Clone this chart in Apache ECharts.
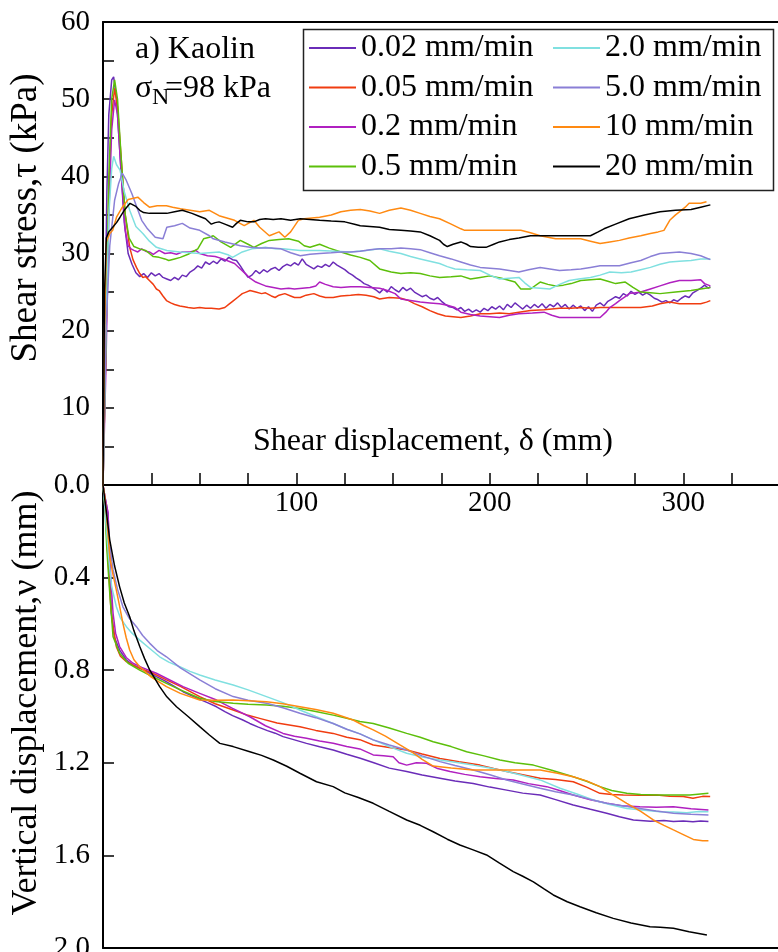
<!DOCTYPE html>
<html><head><meta charset="utf-8">
<script src="https://cdn.jsdelivr.net/npm/echarts@6/dist/echarts.min.js"></script>
<style>html,body{margin:0;padding:0;background:#fff}#c{width:778px;height:952px}</style>
</head><body><div id="c"></div>
<script>
const rateNames = ['0.02 mm/min','0.05 mm/min','0.2 mm/min','0.5 mm/min','2.0 mm/min','5.0 mm/min','10 mm/min','20 mm/min'];
const rateColors = ['#6a2cb8','#f03c10','#b020c0','#5cbf0a','#80e0e0','#8a7fd6','#ff8a12','#000000'];
const xTickLabels = [100,200,300];
const tauTickLabels = [10,20,30,40,50,60];
const nuTickLabels = ['0.0','0.4','0.8','1.2','1.6','2.0'];

// Shear stress (kPa) vs shear displacement (mm)
const tau002 = [[0,0],[1,20],[2,38],[3,48],[4.5,52.5],[5.5,52.9],[7,50],[9,42],[11,34],[13,30],[15,28.6],[17,27.5],[19,27.0],[21,27.4],[23,26.9],[25,27.5],[27,27.1],[29,27.4],[31,26.9],[33,26.7],[35,26.5],[37,26.9],[39,26.6],[41,27.2],[43,27.0],[45,27.6],[47,27.9],[49,28.4],[51,28.1],[53,28.9],[55,28.6],[57,29.0],[59,28.7],[61,29.3],[63,29.0],[65,29.5],[67,29.2],[69,29.1],[71,28.4],[73,27.6],[75,26.9],[77,27.2],[79,27.8],[81,27.4],[83,27.9],[85,27.6],[87,28.0],[89,28.2],[91,27.8],[93,28.3],[95,28.6],[97,28.4],[99,28.8],[101,28.5],[103,29.3],[105,28.6],[107,28.3],[109,28.0],[111,28.4],[113,28.2],[115,28.6],[117,28.3],[119,28.9],[121,28.5],[123,28.2],[125,27.9],[127,27.5],[129,27.2],[131,26.8],[133,26.5],[135,26.1],[137,25.9],[139,25.6],[141,25.3],[143,24.9],[145,25.4],[147,25.0],[149,25.7],[151,25.3],[153,25.0],[155,25.6],[157,25.2],[159,25.5],[161,25.0],[163,24.7],[165,24.4],[167,24.6],[169,24.2],[171,24.0],[173,24.3],[175,23.8],[177,23.4],[179,23.1],[181,23.0],[183,22.7],[185,23.0],[187,22.5],[189,22.8],[191,22.4],[193,22.7],[195,22.4],[197,22.9],[199,22.6],[201,23.1],[203,22.8],[205,23.2],[207,22.7],[209,23.4],[211,23.0],[213,23.6],[215,23.2],[217,22.8],[219,23.3],[221,22.9],[223,23.4],[225,23.0],[227,23.5],[229,22.9],[231,23.4],[233,23.1],[235,23.6],[237,23.0],[239,23.4],[241,22.8],[243,23.3],[245,22.9],[247,23.2],[249,22.6],[251,23.1],[253,22.5],[255,23.3],[257,23.6],[259,23.2],[261,23.8],[263,24.1],[265,24.4],[267,24.2],[269,24.8],[271,24.5],[273,25.1],[275,24.7],[277,25.0],[279,24.6],[281,24.9],[283,24.6],[285,24.2],[287,24.0],[289,23.7],[291,23.9],[293,23.6],[295,24.0],[297,23.8],[299,24.2],[301,24.5],[303,24.3],[305,24.9],[307,25.2],[309,25.5],[311,25.9],[313,25.5],[314,25.7]];
const tau005 = [[0,0],[1.5,18],[3,38],[4.5,48],[6,51.4],[7.5,49],[9.5,42],[11.5,35],[13.8,30.8],[15.5,29.2],[17.3,28.2],[19,27.4],[20.6,26.9],[22,27.0],[24,26.5],[26,26.0],[27.6,25.4],[29,25.2],[31,24.5],[32.8,23.9],[35,23.6],[37,23.4],[39.7,23.2],[42,23.1],[44,23.0],[47,22.9],[50,23.0],[53,22.9],[56,22.9],[60,22.8],[63,23.0],[65,23.4],[67,23.8],[70,24.4],[72,24.8],[74,25.0],[76,25.2],[79,25.0],[82,24.8],[84,24.9],[87,24.5],[89,24.3],[91,24.6],[94,24.8],[97,24.5],[99,24.3],[102,24.3],[105,24.6],[109,24.8],[112,24.5],[115,24.3],[119,24.3],[123,24.5],[128,24.6],[132,24.7],[136,24.6],[140,24.4],[143,24.1],[148,24.3],[154,24.2],[158,23.9],[161,23.5],[165,23.1],[169,22.6],[173,22.2],[177,21.9],[181,21.8],[185,21.7],[190,21.9],[195,22.2],[200,22.2],[205,22.3],[210,22.2],[215,22.4],[221,22.6],[228,22.7],[236,22.9],[242,22.9],[247,23.0],[252,22.9],[257,23.0],[263,23.0],[270,23.0],[278,23.0],[284,23.2],[288,23.5],[293,23.7],[298,23.5],[304,23.5],[309,23.5],[312,23.7],[314,23.9]];
const tau02 = [[0,0],[1.5,15],[3,35],[4.5,46],[6,49.9],[7.5,48],[9.5,40],[11.5,33],[13,31],[14.5,30.6],[16,30.4],[18,30.2],[20,30.6],[22,30.3],[24,30.2],[26,29.9],[29,30.4],[32,30.0],[35,30.1],[38,29.9],[41,30.2],[45,30.2],[48,30.4],[50,30.0],[54,29.7],[58,29.6],[62,29.3],[65,29.0],[68,28.7],[71,28.0],[74,27.3],[76,26.8],[79,26.3],[82,26.0],[84,25.8],[88,25.6],[92,25.4],[96,25.5],[99,25.4],[103,25.5],[107,25.6],[110,25.8],[112,26.3],[115,26.0],[119,25.7],[123,25.6],[128,25.7],[133,25.7],[138,25.6],[143,25.5],[147,25.2],[151,24.8],[154,24.1],[159,23.9],[164,23.7],[169,23.6],[174,23.5],[178,23.3],[182,23.0],[185,22.4],[190,22.1],[195,21.9],[200,21.8],[205,21.7],[210,22.0],[215,22.2],[222,22.3],[228,22.4],[232,22.0],[236,21.7],[245,21.7],[252,21.7],[257,21.7],[260,22.4],[262,23.0],[265,23.5],[267,23.9],[270,24.4],[272,24.8],[278,25.0],[283,25.4],[288,25.8],[293,26.2],[298,26.5],[304,26.5],[309,26.6],[311,26.1],[314,25.8]];
const tau05 = [[0,0],[1.5,18],[3,40],[4.5,50],[6,52.5],[7.5,50],[9.5,42],[11.5,35],[13.5,32],[16,30.9],[19,30.6],[22,30.4],[24,30.0],[26,29.6],[29,29.5],[32,29.3],[34,29.1],[37,29.3],[40,29.5],[44,29.9],[49,30.6],[52,31.9],[55,32.1],[57,32.3],[61,31.5],[66,30.8],[71,31.7],[75,31.2],[78,30.8],[82,31.3],[86,31.7],[91,31.8],[96,31.9],[101,31.6],[104,31.0],[107,30.8],[112,31.2],[117,30.7],[123,30.2],[128,29.8],[133,29.5],[138,29.1],[143,28.0],[149,27.6],[154,27.4],[159,27.5],[164,27.4],[169,27.1],[174,26.9],[180,27.0],[185,27.1],[190,26.7],[195,26.9],[200,27.1],[206,26.8],[213,26.3],[216,25.4],[221,25.4],[226,26.3],[230,26.0],[234,25.8],[238,25.9],[242,26.1],[247,26.5],[252,26.6],[257,26.7],[261,26.4],[265,26.1],[270,26.3],[274,25.6],[278,25.0],[283,24.9],[288,24.8],[296,25.0],[304,25.2],[309,25.4],[314,25.6]];
const tau20 = [[0,0],[1.5,20],[3,35],[4.5,41],[5.5,42.6],[7,41.5],[8.8,40.8],[11,38],[13.8,35.6],[17,33.5],[20.6,32.6],[24,31.6],[27.6,30.8],[33,30.4],[39.7,30.2],[45,30.1],[50,30.0],[55,30.1],[60,30.2],[65,29.8],[67,29.5],[72,30.2],[77,30.6],[81,30.7],[84,30.8],[89,30.6],[93,30.6],[98,30.5],[102,30.4],[107,30.4],[112,30.4],[120,30.3],[128,30.2],[136,30.4],[143,30.6],[148,30.3],[154,30.0],[159,29.6],[164,29.3],[169,29.0],[174,28.7],[178,28.3],[182,28.0],[188,27.9],[195,27.8],[200,27.2],[205,26.7],[210,26.8],[215,26.9],[218,26.2],[221,25.6],[226,25.5],[231,25.4],[236,26.0],[241,26.5],[246,26.7],[252,26.9],[257,27.2],[262,27.6],[268,27.5],[273,27.6],[278,27.9],[283,28.2],[288,28.6],[293,28.9],[298,29.0],[304,29.1],[309,29.3],[314,29.3]];
const tau50 = [[0,0],[1.5,20],[3.5,31],[6,36.9],[8,39],[10,40.4],[12,39.5],[15,37.7],[17.5,36],[20,34.3],[23,33.2],[27,32.1],[31,31.9],[33,33.4],[37,33.6],[41,33.9],[45,33.3],[50,33.0],[55,32.3],[57,31.9],[63,31.5],[71,31.0],[76,30.8],[81,30.7],[87,30.7],[92,30.6],[97,30.1],[102,29.7],[107,29.9],[112,30.0],[118,30.1],[123,30.2],[128,30.2],[133,30.3],[138,30.5],[143,30.6],[149,30.6],[154,30.7],[159,30.6],[164,30.5],[169,30.1],[174,29.7],[180,29.3],[185,28.9],[190,28.5],[195,28.2],[200,28.1],[205,28.0],[210,27.8],[215,27.6],[220,27.9],[226,28.2],[231,28.0],[236,27.8],[242,27.9],[247,28.0],[252,28.2],[257,28.4],[262,28.4],[267,28.4],[273,28.8],[278,29.1],[283,29.6],[288,30.0],[293,30.1],[298,30.2],[304,30.0],[309,29.7],[314,29.2]];
const tau10 = [[0,0],[0.8,20],[1.7,31.5],[3.5,32.6],[5,33],[7,34.7],[10,36],[13,37],[18,37.3],[21,36.6],[24,36.0],[28,36.2],[32.8,36.2],[36,36.0],[40,35.8],[45,35.6],[50,35.4],[55,35.6],[60,34.9],[64,34.6],[68,34.3],[73,33.6],[78,34.3],[81,33.4],[86,32.3],[91,32.8],[94,32.1],[97,32.8],[101,34.3],[104,34.5],[108,34.6],[112,34.7],[118,35.0],[123,35.4],[128,35.6],[133,35.7],[138,35.5],[143,35.2],[148,35.6],[154,35.9],[159,35.6],[164,35.2],[169,34.8],[174,34.5],[180,33.8],[185,33.2],[187,33.0],[193,33.0],[200,33.0],[208,33.0],[216,33.0],[221,32.7],[226,32.3],[230,32.1],[234,31.9],[240,31.9],[247,31.9],[252,31.6],[257,31.3],[262,31.5],[267,31.7],[272,32.0],[278,32.3],[283,32.6],[287,32.8],[290,33.0],[293,34.3],[296,35.0],[298,35.4],[301,36.0],[303,36.5],[306,36.5],[309,36.5],[312,36.7]];
const tau200 = [[0,0],[0.8,25],[1.7,32],[3,32.8],[5,33.4],[7,34.0],[8.8,34.7],[11,35.6],[14,36.5],[15,36.7],[17,36.1],[19,35.6],[21,35.3],[24,35.2],[28,35.2],[33,35.2],[37,35.4],[41,35.6],[46,35.2],[50,34.8],[53,34.5],[56,33.8],[58,34.0],[60,34.1],[63,33.8],[67,33.4],[69,33.9],[71,34.3],[75,34.1],[78,34.1],[81,34.4],[84,34.5],[88,34.4],[92,34.5],[97,34.3],[102,34.5],[107,34.4],[112,34.3],[118,34.2],[125,34.1],[130,33.8],[133,33.6],[138,33.5],[143,33.4],[148,33.1],[154,33.0],[159,32.9],[164,32.8],[169,32.3],[174,31.7],[176,31.2],[178,30.9],[181,31.2],[185,31.5],[188,31.2],[190,30.9],[194,30.8],[198,30.8],[202,31.2],[205,31.5],[210,31.8],[215,32.0],[221,32.3],[228,32.3],[236,32.3],[244,32.3],[252,32.3],[256,32.8],[259,33.2],[265,33.8],[272,34.5],[280,35.0],[288,35.4],[296,35.6],[304,35.7],[309,36.0],[314,36.3]];

// Vertical displacement (mm) vs shear displacement (mm)
const nu002 = [[0,0],[1,0.05],[2.6,0.122],[3.5,0.35],[4.3,0.554],[6,0.66],[8.6,0.713],[12,0.755],[15.5,0.778],[20,0.795],[24,0.812],[27.6,0.828],[32,0.846],[36,0.866],[41.4,0.893],[46,0.911],[50,0.926],[54,0.94],[58.7,0.958],[63,0.979],[67,0.996],[72,1.014],[75.9,1.03],[80,1.045],[85,1.061],[89,1.072],[93.1,1.087],[99,1.101],[105.2,1.116],[112,1.131],[119,1.145],[126,1.163],[133,1.18],[140,1.2],[148,1.223],[157,1.238],[165,1.253],[174.2,1.267],[182,1.279],[191.4,1.289],[200,1.305],[208.7,1.318],[217,1.331],[226,1.339],[234,1.359],[243.1,1.382],[252,1.401],[260.4,1.418],[267,1.433],[274.2,1.447],[283,1.452],[290,1.449],[294.9,1.454],[300,1.451],[305,1.455],[309,1.451],[313,1.454]];
const nu005 = [[0,0],[1,0.08],[2.5,0.3],[4,0.52],[5.2,0.612],[6.9,0.698],[9,0.74],[12.1,0.763],[15,0.775],[19,0.792],[25,0.81],[32.8,0.842],[40,0.87],[50,0.914],[58,0.945],[67.3,0.972],[75,0.995],[81,1.008],[90,1.028],[101.8,1.044],[110,1.06],[119,1.073],[126,1.09],[132.8,1.1],[139.7,1.123],[148,1.134],[157,1.145],[165,1.162],[174.2,1.181],[184,1.195],[194.9,1.21],[202,1.225],[208.7,1.238],[217,1.252],[226,1.267],[234,1.272],[243.1,1.282],[250,1.305],[256.9,1.332],[263,1.337],[269,1.339],[278,1.34],[286.3,1.339],[293,1.345],[300,1.346],[305,1.353],[310,1.345],[313.9,1.346]];
const nu02 = [[0,0],[1,0.05],[2.6,0.122],[4,0.4],[5.2,0.554],[6.5,0.64],[8.6,0.698],[12,0.745],[15.5,0.77],[20,0.788],[27.6,0.813],[34,0.84],[41.4,0.871],[50,0.9],[58.7,0.929],[67,0.965],[75.9,1.001],[84,1.04],[93.1,1.073],[99,1.085],[105.2,1.094],[112,1.106],[119,1.116],[126,1.13],[132.8,1.14],[139.7,1.166],[145,1.17],[150,1.174],[153,1.2],[157,1.21],[162,1.2],[167.3,1.202],[173,1.225],[179.4,1.238],[187,1.25],[194.9,1.26],[203,1.268],[212.1,1.274],[220,1.29],[229.4,1.303],[236,1.32],[243.1,1.339],[252,1.36],[260.4,1.375],[268,1.385],[277.6,1.39],[286,1.392],[294.9,1.39],[304,1.398],[313,1.404]];
const nu05 = [[0,0],[1,0.1],[2,0.28],[3.5,0.468],[5.2,0.655],[8.6,0.727],[13,0.77],[19,0.8],[25,0.825],[32.8,0.857],[40,0.885],[50,0.921],[58,0.935],[67.3,0.943],[75,0.947],[84.5,0.95],[93,0.956],[101.8,0.965],[110,0.978],[119,0.994],[126,1.008],[132.8,1.022],[139.7,1.03],[148,1.05],[157,1.073],[164,1.09],[170.7,1.109],[180,1.13],[188,1.152],[197,1.17],[205.2,1.188],[213,1.2],[222.5,1.21],[232,1.232],[243.1,1.26],[250,1.28],[256.9,1.303],[263,1.32],[270.8,1.332],[278,1.337],[286.3,1.339],[295,1.339],[303.4,1.339],[313,1.332]];
const nu20 = [[0,0],[0.8,0.08],[1.8,0.194],[3,0.32],[4.5,0.44],[6.9,0.526],[9,0.575],[12.1,0.612],[15,0.64],[19,0.67],[24,0.705],[29.3,0.742],[34,0.765],[39.7,0.785],[45,0.805],[50,0.821],[58,0.842],[67.3,0.864],[75,0.885],[84.5,0.914],[93,0.94],[101.8,0.972],[110,1.0],[119,1.03],[126,1.055],[133,1.075],[139.7,1.101],[148,1.13],[157,1.159],[165,1.175],[174.2,1.188],[182,1.198],[191.4,1.21],[200,1.222],[208.7,1.238],[217,1.255],[226,1.274],[236.3,1.31],[245,1.335],[253.5,1.361],[262,1.38],[270.8,1.397],[280,1.405],[288,1.411],[295,1.413],[301.8,1.416],[308,1.41],[313,1.411]];
const nu50 = [[0,0],[0.8,0.05],[1.8,0.122],[3.5,0.26],[5.2,0.367],[7.5,0.45],[10.3,0.526],[13.5,0.575],[17.3,0.612],[20.5,0.65],[24.2,0.684],[28,0.715],[32.8,0.742],[40,0.79],[50,0.842],[58,0.88],[67.3,0.914],[75,0.93],[84.5,0.943],[93,0.962],[101.8,0.986],[110,1.005],[119,1.03],[126,1.055],[132.8,1.075],[139.7,1.101],[148,1.123],[157,1.145],[165,1.17],[174.2,1.195],[182,1.212],[191.4,1.231],[200,1.252],[208.7,1.274],[217,1.292],[226,1.31],[234,1.325],[243.1,1.339],[252,1.358],[260.4,1.375],[270,1.388],[277.6,1.397],[286,1.408],[294.9,1.418],[304,1.422],[313,1.425]];
const nu10 = [[0,0],[1,0.05],[2,0.15],[3.5,0.31],[5,0.38],[6.9,0.454],[8.5,0.52],[10.3,0.598],[12,0.66],[13.8,0.713],[16,0.755],[19,0.785],[25,0.83],[32.8,0.871],[40,0.9],[50,0.929],[58,0.93],[67.3,0.929],[75,0.932],[84.5,0.936],[93,0.945],[101.8,0.958],[110,0.97],[119,0.986],[124,1.0],[129.3,1.015],[135,1.04],[139.7,1.058],[146,1.085],[153.5,1.123],[160,1.155],[165,1.185],[170.7,1.214],[180,1.222],[191.4,1.231],[200,1.231],[212,1.231],[226,1.231],[235,1.245],[243.1,1.26],[250,1.278],[256.9,1.303],[263,1.335],[270.8,1.375],[278,1.41],[284.5,1.447],[290,1.47],[294.9,1.49],[300,1.51],[305.2,1.531],[310,1.537],[313,1.537]];
const nu200 = [[0,0],[1.5,0.1],[3.5,0.238],[6,0.35],[8.6,0.44],[11,0.51],[13.8,0.569],[16,0.63],[19,0.698],[21.5,0.75],[24.2,0.8],[29.3,0.871],[33,0.915],[38,0.958],[44,1.0],[50,1.044],[55,1.08],[60.4,1.116],[67.3,1.13],[75.9,1.152],[82,1.168],[88,1.188],[95,1.215],[101.8,1.245],[110.4,1.282],[119,1.303],[125,1.33],[132,1.35],[139.7,1.375],[148,1.41],[157,1.447],[164,1.47],[170.7,1.498],[178,1.53],[184.5,1.555],[191,1.575],[198.3,1.598],[205,1.633],[212.1,1.67],[217,1.69],[222.5,1.714],[228,1.745],[232.8,1.771],[240,1.8],[246.6,1.822],[255,1.848],[263.8,1.872],[273,1.892],[282.8,1.908],[288,1.91],[294.9,1.915],[303,1.93],[312.2,1.944]];

const tauData = [tau002,tau005,tau02,tau05,tau20,tau50,tau10,tau200];
const nuData = [nu002,nu005,nu02,nu05,nu20,nu50,nu10,nu200];

const FONT = "'Liberation Serif','Times New Roman',serif";
const chart = echarts.init(document.getElementById('c'), null, {renderer:'canvas'});

const series = [];
rateNames.forEach((n,i)=>{
  series.push({name:n,type:'line',xAxisIndex:0,yAxisIndex:0,data:tauData[i],symbol:'none',showSymbol:false,
    lineStyle:{color:rateColors[i],width:1.5},itemStyle:{color:rateColors[i]},z:2+i,silent:true});
});
rateNames.forEach((n,i)=>{
  series.push({name:n,type:'line',xAxisIndex:2,yAxisIndex:1,data:nuData[i],symbol:'none',showSymbol:false,
    lineStyle:{color:rateColors[i],width:1.5},itemStyle:{color:rateColors[i]},z:2+i,silent:true});
});

const axisLine = {show:true,onZero:false,lineStyle:{color:'#000',width:2}};
const legendCommon = {orient:'vertical',icon:'rect',itemWidth:47,itemHeight:2,itemGap:7.5,selectedMode:false,
  textStyle:{fontFamily:FONT,fontSize:32,color:'#000',lineHeight:31},padding:0,z:10};

chart.setOption({
  animation:false,
  backgroundColor:'#fff',
  grid:[{left:103,top:22,width:677,height:463,outerBoundsMode:'none',containLabel:false},
        {left:103,top:485,width:677,height:463,outerBoundsMode:'none',containLabel:false}],
  xAxis:[
    {gridIndex:0,type:'value',min:0,max:350,interval:25,position:'bottom',axisLine:axisLine,
     axisTick:{show:true,inside:true,length:12,lineStyle:{color:'#000',width:1.5}},
     axisLabel:{fontFamily:FONT,fontSize:29,color:'#000',margin:4,hideOverlap:false,
       formatter:v=>xTickLabels.includes(v)?String(v):''},splitLine:{show:false}},
    {gridIndex:0,type:'value',min:0,max:350,position:'top',axisLine:axisLine,
     axisTick:{show:false},axisLabel:{show:false},splitLine:{show:false}},
    {gridIndex:1,type:'value',min:0,max:350,position:'bottom',axisLine:axisLine,
     axisTick:{show:false},axisLabel:{show:false},splitLine:{show:false}}
  ],
  yAxis:[
    {gridIndex:0,type:'value',min:0,max:60,interval:5,axisLine:axisLine,
     axisTick:{show:true,inside:true,length:11,lineStyle:{color:'#000',width:1.5}},
     axisLabel:{fontFamily:FONT,fontSize:29,color:'#000',margin:13,hideOverlap:false,
       formatter:v=>tauTickLabels.includes(v)?String(v):''},splitLine:{show:false}},
    {gridIndex:1,type:'value',min:0,max:2,interval:0.4,inverse:true,axisLine:axisLine,
     axisTick:{show:true,inside:true,length:11,lineStyle:{color:'#000',width:1.5}},
     axisLabel:{fontFamily:FONT,fontSize:29,color:'#000',margin:13,hideOverlap:false,
       formatter:v=>nuTickLabels[Math.round(v/0.4)]},splitLine:{show:false}}
  ],
  legend:[
    Object.assign({data:rateNames.slice(0,4),left:309,top:32},legendCommon),
    Object.assign({data:rateNames.slice(4),left:553,top:32},legendCommon)
  ],
  graphic:[
    {type:'rect',z:5,shape:{x:303.5,y:29.5,width:470,height:161},style:{fill:'#fff',stroke:'#222',lineWidth:1.5}},
    {type:'text',z:6,x:135,y:50,style:{text:'a) Kaolin',font:'32px '+FONT,fill:'#000',textAlign:'left',textVerticalAlign:'middle'}},
    {type:'text',z:6,x:135,y:89,style:{text:'σ',font:'32px '+FONT,fill:'#000',textAlign:'left',textVerticalAlign:'middle'}},
    {type:'text',z:6,x:152,y:98,style:{text:'N',font:'24px '+FONT,fill:'#000',textAlign:'left',textVerticalAlign:'middle'}},
    {type:'text',z:6,x:165,y:89,style:{text:'=98 kPa',font:'32px '+FONT,fill:'#000',textAlign:'left',textVerticalAlign:'middle'}},
    {type:'text',z:6,x:433,y:442,style:{text:'Shear displacement, δ (mm)',font:'32px '+FONT,fill:'#000',textAlign:'center',textVerticalAlign:'middle'}},
    {type:'text',z:6,x:26,y:218,rotation:Math.PI/2,style:{text:'Shear stress,τ (kPa)',font:'37px '+FONT,fill:'#000',textAlign:'center',textVerticalAlign:'middle'}},
    {type:'text',z:6,x:27,y:703,rotation:Math.PI/2,style:{text:'Vertical displacement,ν (mm)',font:'36px '+FONT,fill:'#000',textAlign:'center',textVerticalAlign:'middle'}}
  ],
  series:series
});
</script></body></html>
